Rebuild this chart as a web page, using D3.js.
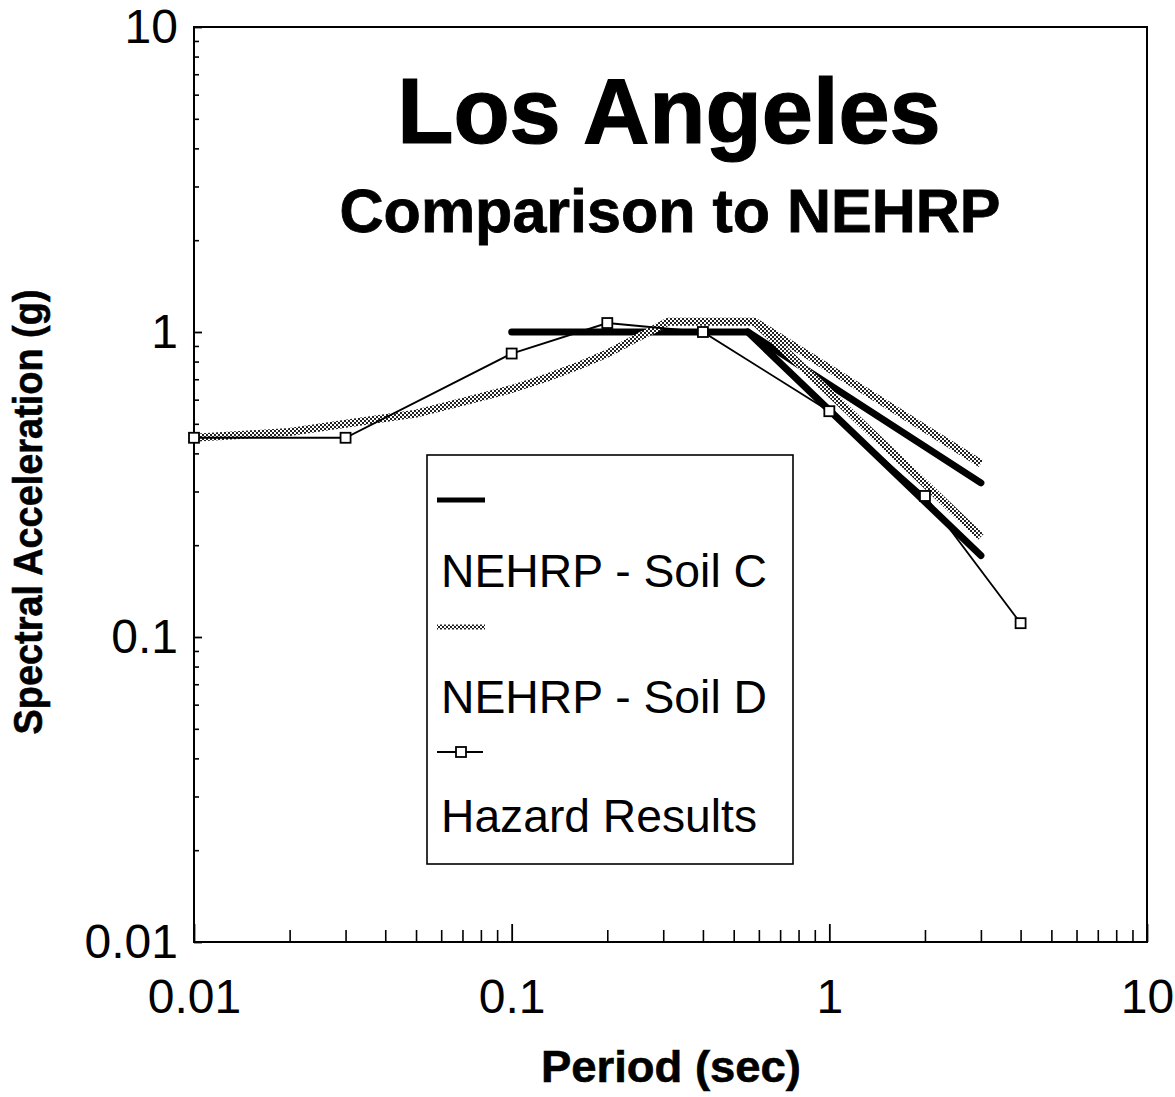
<!DOCTYPE html>
<html>
<head>
<meta charset="utf-8">
<script src="https://cdn.jsdelivr.net/npm/d3@7"></script>
<style>
  html, body { margin: 0; padding: 0; background: #fff; }
  svg { display: block; font-family: "Liberation Sans", Arial, Helvetica, sans-serif; }
</style>
</head>
<body>
<svg id="chart" width="1175" height="1097"></svg>
<script>
// ---- data ----
const titleText = "Los Angeles";
const subtitleText = "Comparison to NEHRP";
const xLabel = "Period (sec)";
const yLabel = "Spectral Acceleration (g)";

const xMajorTicks = [0.01, 0.1, 1, 10];
const xTickLabels = ["0.01", "0.1", "1", "10"];
const yMajorTicks = [0.01, 0.1, 1, 10];
const yTickLabels = ["0.01", "0.1", "1", "10"];

// NEHRP - Soil C (plateau + two descending branches)
const soilC_mainT  = [0.1, 0.554, 3.0];
const soilC_mainSA = [1.0, 1.0, 0.32];
const soilC_branchT  = [0.554, 3.0];
const soilC_branchSA = [1.0, 0.185];

// NEHRP - Soil D
const soilD_mainT  = [0.01, 0.02, 0.03, 0.05, 0.07, 0.1, 0.13, 0.16, 0.2, 0.24, 0.28, 0.31, 0.583, 3.0];
const soilD_mainSA = [0.45, 0.47, 0.50, 0.54, 0.59, 0.65, 0.71, 0.77, 0.85, 0.94, 1.02, 1.08, 1.08, 0.37];
const soilD_branchT  = [0.583, 3.0];
const soilD_branchSA = [1.08, 0.213];

// Hazard Results
const hazardT  = [0.01, 0.03, 0.1, 0.2, 0.4, 1, 2, 4];
const hazardSA = [0.45, 0.45, 0.85, 1.07, 1.0, 0.55, 0.29, 0.111];

const legendLabels = ["NEHRP - Soil C", "NEHRP - Soil D", "Hazard Results"];

// ---- drawing ----
(function () {
const svg = d3.select("#chart");
const pl = 194, pr = 1147, pt = 27, pb = 942;
const x = d3.scaleLog().domain([0.01, 10]).range([pl, pr]);
const y = d3.scaleLog().domain([0.01, 10]).range([pb, pt]);

const defs = svg.append("defs");
const pat = defs.append("pattern").attr("id", "halftone")
  .attr("patternUnits", "userSpaceOnUse").attr("width", 4).attr("height", 4);
pat.append("rect").attr("width", 4).attr("height", 4).attr("fill", "#ffffff");
pat.append("rect").attr("x", 0).attr("y", 0).attr("width", 2).attr("height", 2).attr("fill", "#222");
pat.append("rect").attr("x", 2).attr("y", 2).attr("width", 2).attr("height", 2).attr("fill", "#222");

function minorTicks() {
  const t = [];
  [0.01, 0.1, 1].forEach(d => { for (let k = 2; k <= 9; k++) t.push(d * k); });
  return t;
}

// minor ticks x (inward)
svg.append("g").attr("transform", `translate(0,${pb})`)
  .call(d3.axisBottom(x).tickValues(minorTicks()).tickSizeInner(-12).tickSizeOuter(0).tickFormat(""))
  .call(g => g.select(".domain").remove())
  .call(g => g.selectAll("line").attr("stroke", "#000").attr("stroke-width", 1.6));
// major ticks x with labels
svg.append("g").attr("transform", `translate(0,${pb})`)
  .call(d3.axisBottom(x).tickValues(xMajorTicks).tickSizeInner(-18).tickSizeOuter(0).tickPadding(37)
    .tickFormat((d, i) => xTickLabels[i]))
  .call(g => g.select(".domain").remove())
  .call(g => g.selectAll("line").attr("stroke", "#000").attr("stroke-width", 1.8))
  .call(g => g.selectAll("text").attr("font-size", 48).attr("fill", "#000")
    .attr("font-family", "'Liberation Sans', Arial, sans-serif"));

// minor ticks y
svg.append("g").attr("transform", `translate(${pl},0)`)
  .call(d3.axisLeft(y).tickValues(minorTicks()).tickSizeInner(-5).tickSizeOuter(0).tickFormat(""))
  .call(g => g.select(".domain").remove())
  .call(g => g.selectAll("line").attr("stroke", "#000").attr("stroke-width", 1.6));
// major ticks y with labels
svg.append("g").attr("transform", `translate(${pl},0)`)
  .call(d3.axisLeft(y).tickValues(yMajorTicks).tickSizeInner(-8).tickSizeOuter(0).tickPadding(16)
    .tickFormat((d, i) => yTickLabels[i]))
  .call(g => g.select(".domain").remove())
  .call(g => g.selectAll("line").attr("stroke", "#000").attr("stroke-width", 1.8))
  .call(g => g.selectAll("text").attr("font-size", 48).attr("fill", "#000")
    .attr("font-family", "'Liberation Sans', Arial, sans-serif"));

// frame
svg.append("rect").attr("x", pl).attr("y", pt).attr("width", pr - pl).attr("height", pb - pt)
  .attr("fill", "none").attr("stroke", "#000").attr("stroke-width", 2);

// titles
svg.append("text").attr("x", 669).attr("y", 143).attr("text-anchor", "middle")
  .attr("font-size", 92).attr("font-weight", "bold").attr("stroke", "#000").attr("stroke-width", 1.2)
  .text(titleText);
svg.append("text").attr("x", 670).attr("y", 232).attr("text-anchor", "middle")
  .attr("font-size", 61).attr("font-weight", "bold").attr("stroke", "#000").attr("stroke-width", 0.8)
  .text(subtitleText);

// axis titles
svg.append("text").attr("x", 671).attr("y", 1082).attr("text-anchor", "middle")
  .attr("font-size", 45).attr("font-weight", "bold").attr("stroke", "#000").attr("stroke-width", 0.6)
  .attr("textLength", 260).attr("lengthAdjust", "spacingAndGlyphs").text(xLabel);
svg.append("text").attr("transform", "translate(42,512) rotate(-90)").attr("text-anchor", "middle")
  .attr("font-size", 41).attr("font-weight", "bold").attr("stroke", "#000").attr("stroke-width", 0.6)
  .attr("textLength", 445).attr("lengthAdjust", "spacingAndGlyphs").text(yLabel);

const line = d3.line().x(d => x(d[0])).y(d => y(d[1]));
const zip = (a, b) => a.map((v, i) => [v, b[i]]);

const plot = svg.append("g");
// Soil C
[zip(soilC_mainT, soilC_mainSA), zip(soilC_branchT, soilC_branchSA)].forEach(pts => {
  plot.append("path").attr("d", line(pts)).attr("fill", "none")
    .attr("stroke", "#000").attr("stroke-width", 7).attr("stroke-linejoin", "round").attr("stroke-linecap", "round");
});
// Soil D
[zip(soilD_mainT, soilD_mainSA), zip(soilD_branchT, soilD_branchSA)].forEach(pts => {
  plot.append("path").attr("d", line(pts)).attr("fill", "none")
    .attr("stroke", "url(#halftone)").attr("stroke-width", 8).attr("stroke-linejoin", "round");
});
// Hazard
const hz = zip(hazardT, hazardSA);
plot.append("path").attr("d", line(hz)).attr("fill", "none").attr("stroke", "#000").attr("stroke-width", 1.8);
plot.selectAll("rect.hz").data(hz).join("rect").attr("class", "hz")
  .attr("x", d => x(d[0]) - 5).attr("y", d => y(d[1]) - 5).attr("width", 10).attr("height", 10)
  .attr("fill", "#fff").attr("stroke", "#000").attr("stroke-width", 1.8);

// legend
const lg = svg.append("g");
lg.append("rect").attr("x", 427).attr("y", 455).attr("width", 366).attr("height", 409)
  .attr("fill", "#fff").attr("stroke", "#000").attr("stroke-width", 1.6);
lg.append("line").attr("x1", 437).attr("x2", 485).attr("y1", 500).attr("y2", 500)
  .attr("stroke", "#000").attr("stroke-width", 5);
lg.append("line").attr("x1", 437).attr("x2", 485).attr("y1", 627).attr("y2", 627)
  .attr("stroke", "url(#halftone)").attr("stroke-width", 5);
lg.append("line").attr("x1", 437).attr("x2", 483).attr("y1", 752).attr("y2", 752)
  .attr("stroke", "#000").attr("stroke-width", 2);
lg.append("rect").attr("x", 456).attr("y", 747).attr("width", 10).attr("height", 10)
  .attr("fill", "#fff").attr("stroke", "#000").attr("stroke-width", 1.8);
const lgY = [587, 713, 832];
const lgW = [326, 326, 316];
legendLabels.forEach((t, i) => {
  lg.append("text").attr("x", 441).attr("y", lgY[i]).attr("font-size", 46)
    .attr("textLength", lgW[i]).attr("lengthAdjust", "spacingAndGlyphs").text(t);
});
})();
</script>
</body>
</html>
